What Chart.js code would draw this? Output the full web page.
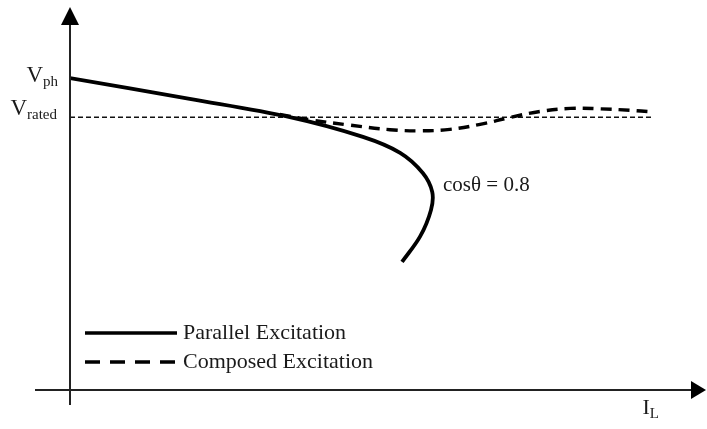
<!DOCTYPE html>
<html>
<head>
<meta charset="utf-8">
<script src="https://cdn.jsdelivr.net/npm/chart.js@4/dist/chart.umd.min.js"></script>
<style>
  html, body { margin: 0; padding: 0; background: #fff; }
  #wrap { width: 707px; height: 429px; }
</style>
</head>
<body>
<div id="wrap"><canvas id="c" width="707" height="429"></canvas></div>
<script>
// Terminal voltage vs. load current (arbitrary units)
const vPh = 8.21;       // no-load phase voltage
const vRated = 7.18;    // rated voltage
const ratedLineEnd = 9.24;

// Parallel (shunt) excitation: voltage drops, then the current folds back
const parallelI = [0, 1.90, 3.49, 4.65, 5.24, 5.60, 5.75, 5.73, 5.56, 5.27];
const parallelV = [8.21, 7.66, 7.18, 6.66, 6.24, 5.71, 5.21, 4.74, 4.05, 3.37];

// Composed (compound) excitation: stays close to the rated voltage
const composedI = [3.33, 3.81, 4.44, 5.08, 5.56, 6.03, 6.51, 6.98, 7.46, 7.94, 8.41, 8.89, 9.24];
const composedV = [7.25, 7.11, 6.97, 6.85, 6.82, 6.86, 6.99, 7.17, 7.33, 7.41, 7.40, 7.36, 7.32];

const seriesNames = ['Parallel Excitation', 'Composed Excitation'];
const pfLabel = 'cosθ = 0.8';

const toPoints = (xs, ys) => xs.map((x, i) => ({ x, y: ys[i] }));

const serif = '"Liberation Serif", "DejaVu Serif", serif';
const ink = '#1a1a1a';

const decorations = {
  id: 'decorations',
  afterDatasetsDraw(chart) {
    const { ctx, chartArea } = chart;
    const xs = chart.scales.x, ys = chart.scales.y;
    const x0 = xs.getPixelForValue(0);
    const y0 = ys.getPixelForValue(0);
    ctx.save();
    ctx.strokeStyle = '#222';
    ctx.fillStyle = '#000';
    ctx.lineWidth = 2;
    // axes
    ctx.beginPath();
    ctx.moveTo(35, y0);
    ctx.lineTo(chart.width - 14, y0);
    ctx.moveTo(x0, y0 + 15);
    ctx.lineTo(x0, chartArea.top + 14);
    ctx.stroke();
    // arrow heads
    const tipX = chart.width - 1;
    ctx.beginPath();
    ctx.moveTo(tipX, y0);
    ctx.lineTo(tipX - 15, y0 - 9);
    ctx.lineTo(tipX - 15, y0 + 9);
    ctx.closePath();
    ctx.fill();
    const tipY = chartArea.top - 3;
    ctx.beginPath();
    ctx.moveTo(x0, tipY);
    ctx.lineTo(x0 - 9, tipY + 18);
    ctx.lineTo(x0 + 9, tipY + 18);
    ctx.closePath();
    ctx.fill();

    // labels with subscripts
    ctx.fillStyle = ink;
    ctx.textBaseline = 'alphabetic';
    const sub = (main, s, xRight, baseY, big, small) => {
      ctx.font = big + 'px ' + serif;
      const wm = ctx.measureText(main).width;
      ctx.font = small + 'px ' + serif;
      const ws = ctx.measureText(s).width;
      const xStart = xRight - wm - ws;
      ctx.font = big + 'px ' + serif;
      ctx.textAlign = 'left';
      ctx.fillText(main, xStart, baseY);
      ctx.font = small + 'px ' + serif;
      ctx.fillText(s, xStart + wm, baseY + 4);
    };
    sub('V', 'ph', x0 - 12, ys.getPixelForValue(vPh) + 4, 23, 15);
    sub('V', 'rated', x0 - 13, ys.getPixelForValue(vRated) - 2, 23, 15);
    sub('I', 'L', 659, y0 + 24, 22, 15);

    ctx.font = '21px ' + serif;
    ctx.textAlign = 'left';
    ctx.fillText(pfLabel, 443, 191);

    // legend
    const rows = [333, 362];
    rows.forEach((y, i) => {
      ctx.beginPath();
      ctx.lineWidth = 3.5;
      ctx.strokeStyle = '#000';
      ctx.setLineDash(i === 0 ? [] : [15, 10]);
      ctx.moveTo(85, y);
      ctx.lineTo(177, y);
      ctx.stroke();
      ctx.setLineDash([]);
      ctx.fillStyle = ink;
      ctx.font = '22px ' + serif;
      ctx.fillText(seriesNames[i], 183, y + 6);
    });
    ctx.restore();
  }
};

new Chart(document.getElementById('c'), {
  type: 'scatter',
  data: {
    datasets: [
      {
        label: seriesNames[0],
        data: toPoints(parallelI, parallelV),
        showLine: true,
        borderColor: '#000',
        borderWidth: 3.8,
        tension: 0.35,
        pointRadius: 0,
        order: 1
      },
      {
        label: seriesNames[1],
        data: toPoints(composedI, composedV),
        showLine: true,
        borderColor: '#000',
        borderWidth: 3.4,
        borderDash: [11, 7],
        tension: 0.4,
        pointRadius: 0,
        order: 2
      },
      {
        label: 'V rated',
        data: [{ x: 0, y: vRated }, { x: ratedLineEnd, y: vRated }],
        showLine: true,
        borderColor: '#111',
        borderWidth: 1.5,
        borderDash: [5, 3],
        pointRadius: 0,
        order: 3
      }
    ]
  },
  options: {
    responsive: false,
    animation: false,
    layout: { padding: { left: 70, right: 7, top: 10, bottom: 39 } },
    scales: {
      x: { type: 'linear', min: 0, max: 10, display: false },
      y: { type: 'linear', min: 0, max: 10, display: false }
    },
    plugins: {
      legend: { display: false },
      tooltip: { enabled: false }
    }
  },
  plugins: [decorations]
});
</script>
</body>
</html>
